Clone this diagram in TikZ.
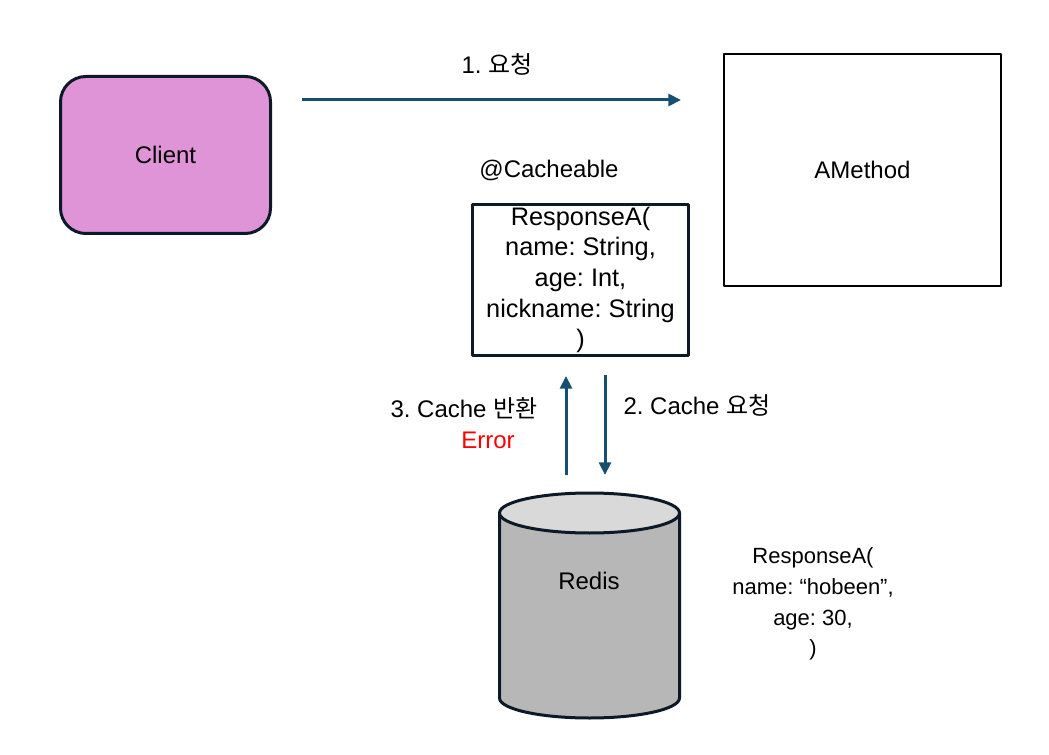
\documentclass[tikz,border=0pt]{standalone}
\usepackage{fontspec}
\setmainfont{Liberation Sans}
\newfontfamily\krfont{Noto Sans CJK KR}
\usetikzlibrary{arrows.meta}
\frenchspacing
\definecolor{clientfill}{RGB}{224,148,216}
\definecolor{edgedark}{RGB}{12,26,40}
\definecolor{flowblue}{RGB}{21,80,112}
\definecolor{redisbody}{RGB}{183,183,183}
\definecolor{redistop}{RGB}{217,217,217}
\definecolor{errred}{RGB}{255,0,0}
\begin{document}
\begin{tikzpicture}[x=0.75pt,y=-0.75pt,>={Triangle[length=9.5pt,width=9pt]},line join=bevel,
  lbl/.style={font=\fontsize{18}{22}\selectfont},
  fieldtxt/.style={font=\fontsize{19}{23}\selectfont,align=center,inner sep=0pt},
  flow/.style={draw=flowblue,line width=2.25pt,->}]
%%
\useasboundingbox (0,0) rectangle (1049,755);
\node (node_client) at (165.5,155) [draw=edgedark,line width=2.25pt,fill=clientfill,rounded corners=19pt,minimum width=157.5pt,minimum height=117.75pt,lbl] {Client};
  \node (node_amethod) at (862.5,170) [draw=black,line width=1.5pt,minimum width=207.75pt,minimum height=174pt,lbl] {AMethod};
  \node (node_cacheable) at (549,170) [lbl] {@Cacheable};
  \node (node_box) at (580.5,280) [draw=edgedark,line width=2.25pt,minimum width=162pt,minimum height=113.25pt,fieldtxt] {ResponseA(\\name: String,\\age: Int,\\nickname: String\\)};
  \node (node_value) at (813,604) [fieldtxt,font=\fontsize{16.5}{23}\selectfont] {ResponseA(\\name: “hobeen”,\\age: 30,\\)};
%
% redis cylinder
\fill [redisbody] (499.5,513) -- (499.5,698) arc [start angle=180,end angle=0,x radius=90,y radius=20] -- (679.5,513) -- cycle;
\draw [edgedark,line width=2.25pt] (499.5,513) -- (499.5,698) arc [start angle=180,end angle=0,x radius=90,y radius=20] -- (679.5,513);
\draw [edgedark,line width=2.25pt,fill=redistop] (589.5,513) ellipse [x radius=90,y radius=20];
  \node (node_redis) at (589,581) [lbl] {Redis};
%
\coordinate (req_tail) at (302,100);
  \coordinate (req_head) at (681,100);
  \coordinate (ret_tail) at (566,475);
  \coordinate (ret_head) at (566,376);
  \coordinate (ask_tail) at (605,375);
  \coordinate (ask_head) at (605,475);
  \draw [flow] (req_tail) -- (req_head);
  \draw [flow] (ret_tail) -- (ret_head);
  \draw [flow] (ask_tail) -- (ask_head);
%
\node (node_req) at (497,64) [lbl] {1. {\krfont 요청}};
  \node (node_ret) at (464,408) [lbl] {3. Cache {\krfont 반환}};
  \node (node_err) at (488,440) [lbl,text=errred] {Error};
  \node (node_ask) at (697,405) [lbl] {2. Cache {\krfont 요청}};
%
\end{tikzpicture}
\end{document}
